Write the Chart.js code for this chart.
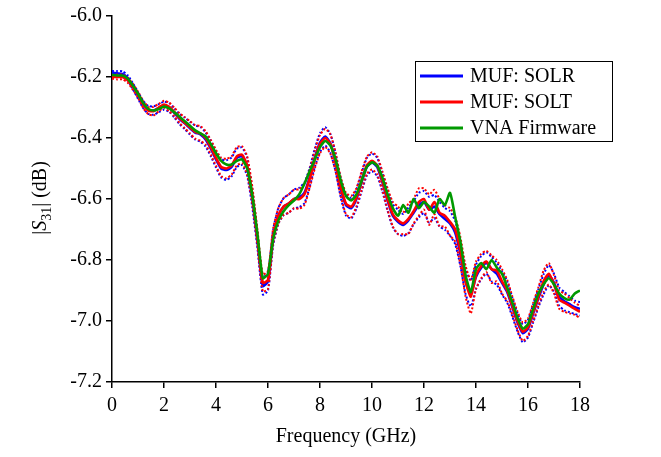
<!DOCTYPE html>
<html>
<head>
<meta charset="utf-8">
<script src="https://cdn.jsdelivr.net/npm/chart.js@4.4.0/dist/chart.umd.min.js"></script>
<style>
  html, body { margin: 0; padding: 0; background: #fff; }
  #wrap { width: 661px; height: 457px; }
</style>
</head>
<body>
<div id="wrap"><canvas id="chart" width="661" height="457"></canvas></div>
<script>
// frequency grid (GHz)
const freq = [
  0, 0.2, 0.4, 0.6, 0.8, 1.0, 1.2, 1.4, 1.6, 1.8,
  2.0, 2.2, 2.4, 2.6, 2.8, 3.0, 3.2, 3.4, 3.6, 3.8,
  4.0, 4.2, 4.4, 4.6, 4.8, 5.0, 5.2, 5.4, 5.6, 5.8,
  6.0, 6.2, 6.4, 6.6, 6.8, 7.0, 7.2, 7.4, 7.6, 7.8,
  8.0, 8.2, 8.4, 8.6, 8.8, 9.0, 9.2, 9.4, 9.6, 9.8,
  10.0, 10.2, 10.4, 10.6, 10.8, 11.0, 11.2, 11.4, 11.6, 11.8,
  12.0, 12.2, 12.4, 12.6, 12.8, 13.0, 13.2, 13.4, 13.6, 13.8,
  14.0, 14.2, 14.4, 14.6, 14.8, 15.0, 15.2, 15.4, 15.6, 15.8,
  16.0, 16.2, 16.4, 16.6, 16.8, 17.0, 17.2, 17.4, 17.6, 17.8,
  18.0
];

// |S31| in dB
const vnaFirmware = [
  -6.193, -6.195, -6.195, -6.205, -6.228, -6.255, -6.285, -6.305, -6.31, -6.305,
  -6.297, -6.303, -6.316, -6.33, -6.345, -6.36, -6.375, -6.385, -6.395, -6.42,
  -6.45, -6.475, -6.487, -6.487, -6.475, -6.47, -6.5, -6.59, -6.72, -6.86,
  -6.845, -6.73, -6.67, -6.64, -6.62, -6.605, -6.585, -6.55, -6.51, -6.47,
  -6.43, -6.41, -6.425, -6.47, -6.54, -6.59, -6.605, -6.585, -6.54, -6.495,
  -6.48, -6.49, -6.53, -6.585, -6.63, -6.655, -6.62, -6.645, -6.6, -6.63,
  -6.61, -6.625, -6.645, -6.6, -6.62, -6.58, -6.66, -6.74, -6.85, -6.905,
  -6.83, -6.81, -6.83, -6.8, -6.825, -6.845, -6.89, -6.94, -6.99, -7.025,
  -7.01, -6.96, -6.91, -6.88, -6.86, -6.88, -6.91, -6.925, -6.93, -6.91,
  -6.9
];

const mufSolt = [
  -6.2, -6.2, -6.2, -6.21, -6.232, -6.258, -6.29, -6.31, -6.312, -6.3,
  -6.29, -6.298, -6.315, -6.335, -6.35, -6.365, -6.38, -6.385, -6.4, -6.43,
  -6.465, -6.495, -6.5, -6.49, -6.46, -6.455, -6.49, -6.59, -6.73, -6.875,
  -6.865, -6.72, -6.655, -6.625, -6.615, -6.6, -6.6, -6.585, -6.535, -6.47,
  -6.42, -6.4, -6.42, -6.48, -6.56, -6.615, -6.625, -6.595, -6.54, -6.49,
  -6.475, -6.49, -6.54, -6.6, -6.65, -6.67, -6.68, -6.665, -6.64, -6.61,
  -6.6, -6.635, -6.61, -6.645, -6.655, -6.675, -6.7, -6.77, -6.87, -6.92,
  -6.85, -6.82, -6.805, -6.83, -6.835, -6.87, -6.9, -6.95, -7.0, -7.035,
  -7.02, -6.97, -6.92, -6.87, -6.845, -6.88, -6.93, -6.94, -6.95, -6.96,
  -6.97
];

const mufSolr = [
  -6.186, -6.188, -6.19, -6.203, -6.23, -6.26, -6.29, -6.308, -6.31, -6.302,
  -6.294, -6.3, -6.318, -6.338, -6.352, -6.368, -6.382, -6.388, -6.405, -6.435,
  -6.47, -6.5, -6.505, -6.495, -6.465, -6.46, -6.495, -6.6, -6.74, -6.885,
  -6.87, -6.725, -6.655, -6.625, -6.615, -6.6, -6.595, -6.58, -6.53, -6.465,
  -6.415, -6.395, -6.418, -6.48, -6.565, -6.62, -6.63, -6.6, -6.545, -6.495,
  -6.48, -6.495, -6.545, -6.605, -6.655, -6.675, -6.685, -6.67, -6.645, -6.62,
  -6.61, -6.635, -6.625, -6.65, -6.665, -6.68, -6.71, -6.78, -6.87, -6.91,
  -6.855, -6.825, -6.81, -6.83, -6.845, -6.875, -6.905, -6.955, -7.005, -7.04,
  -7.025, -6.975, -6.925, -6.88, -6.85, -6.875, -6.92, -6.935, -6.945, -6.955,
  -6.96
];

// half width of the uncertainty band (dB)
const soltUnc = [
  0.006, 0.008, 0.008, 0.008, 0.01, 0.01, 0.012, 0.012, 0.014, 0.012,
  0.012, 0.014, 0.014, 0.016, 0.018, 0.02, 0.022, 0.024, 0.022, 0.024,
  0.026, 0.03, 0.032, 0.03, 0.03, 0.028, 0.03, 0.028, 0.025, 0.028,
  0.03, 0.025, 0.025, 0.028, 0.03, 0.03, 0.032, 0.035, 0.03, 0.03,
  0.03, 0.03, 0.032, 0.03, 0.03, 0.035, 0.035, 0.03, 0.03, 0.028,
  0.028, 0.03, 0.03, 0.035, 0.04, 0.045, 0.035, 0.05, 0.04, 0.045,
  0.035, 0.05, 0.04, 0.045, 0.035, 0.045, 0.04, 0.045, 0.05, 0.055,
  0.045, 0.04, 0.035, 0.045, 0.035, 0.04, 0.035, 0.03, 0.03, 0.03,
  0.028, 0.03, 0.03, 0.035, 0.035, 0.03, 0.03, 0.03, 0.025, 0.02,
  0.02
];

const solrUnc = [
  0.006, 0.008, 0.009, 0.009, 0.01, 0.011, 0.012, 0.013, 0.014, 0.013,
  0.013, 0.014, 0.015, 0.017, 0.019, 0.021, 0.023, 0.024, 0.023, 0.025,
  0.027, 0.03, 0.032, 0.031, 0.03, 0.029, 0.03, 0.029, 0.026, 0.028,
  0.03, 0.026, 0.026, 0.028, 0.03, 0.031, 0.032, 0.034, 0.031, 0.03,
  0.031, 0.03, 0.031, 0.03, 0.031, 0.034, 0.034, 0.031, 0.03, 0.029,
  0.029, 0.03, 0.031, 0.034, 0.038, 0.04, 0.036, 0.042, 0.038, 0.04,
  0.036, 0.042, 0.038, 0.04, 0.036, 0.04, 0.038, 0.04, 0.042, 0.042,
  0.04, 0.038, 0.035, 0.04, 0.036, 0.038, 0.035, 0.031, 0.03, 0.03,
  0.029, 0.03, 0.03, 0.033, 0.033, 0.03, 0.03, 0.03, 0.026, 0.022,
  0.022
];

const legendItems = [
  { label: 'MUF: SOLR', color: '#0000ff' },
  { label: 'MUF: SOLT', color: '#ff0000' },
  { label: 'VNA Firmware', color: '#009900' }
];

const FONT = "'Liberation Serif', 'Times New Roman', serif";

const pts = (ys) => ys.map((y, i) => ({ x: freq[i], y: y }));
const upper = (ys, u) => ys.map((y, i) => ({ x: freq[i], y: y + u[i] }));
const lower = (ys, u) => ys.map((y, i) => ({ x: freq[i], y: y - u[i] }));

const solid = (data, color, order) => ({
  data: data, borderColor: color, borderWidth: 2.6, pointRadius: 0,
  tension: 0.2, fill: false, order: order
});
const dotted = (data, color, order) => ({
  data: data, borderColor: color, borderWidth: 2, borderDash: [2, 2],
  pointRadius: 0, tension: 0.2, fill: false, order: order
});

// y-axis title with italic S and subscript
const yTitle = {
  id: 'yTitle',
  afterDraw(chart) {
    const ctx = chart.ctx;
    const parts = [
      { t: '|', f: `20px ${FONT}`, dy: 0 },
      { t: 'S', f: `italic 20px ${FONT}`, dy: 0 },
      { t: '31', f: `14px ${FONT}`, dy: 5 },
      { t: '| (dB)', f: `20px ${FONT}`, dy: 0 }
    ];
    ctx.save();
    ctx.translate(46, 198);
    ctx.rotate(-Math.PI / 2);
    ctx.fillStyle = '#000';
    ctx.textBaseline = 'alphabetic';
    let total = 0;
    parts.forEach(p => { ctx.font = p.f; p.w = ctx.measureText(p.t).width; total += p.w; });
    let x = -total / 2;
    parts.forEach(p => {
      ctx.font = p.f;
      ctx.fillText(p.t, x, p.dy);
      x += p.w;
    });
    ctx.restore();
  }
};

// boxed legend inside the plot
const boxLegend = {
  id: 'boxLegend',
  afterDraw(chart) {
    const ctx = chart.ctx;
    ctx.save();
    ctx.fillStyle = '#fff';
    ctx.fillRect(415.5, 61.5, 197, 80);
    ctx.strokeStyle = '#000';
    ctx.lineWidth = 1;
    ctx.strokeRect(415.5, 61.5, 197, 80);
    ctx.font = `20px ${FONT}`;
    ctx.textBaseline = 'middle';
    legendItems.forEach((item, i) => {
      const y = 76 + i * 26;
      ctx.strokeStyle = item.color;
      ctx.lineWidth = 3;
      ctx.beginPath();
      ctx.moveTo(420, y);
      ctx.lineTo(463, y);
      ctx.stroke();
      ctx.fillStyle = '#000';
      ctx.fillText(item.label, 470, y + 1);
    });
    ctx.restore();
  }
};

new Chart(document.getElementById('chart'), {
  type: 'line',
  data: {
    datasets: [
      solid(pts(vnaFirmware), '#009900', 0),
      solid(pts(mufSolt), '#ff0000', 1),
      dotted(upper(mufSolt, soltUnc), '#ff0000', 2),
      dotted(lower(mufSolt, soltUnc), '#ff0000', 2),
      solid(pts(mufSolr), '#0000ff', 3),
      dotted(upper(mufSolr, solrUnc), '#0000ff', 4),
      dotted(lower(mufSolr, solrUnc), '#0000ff', 4)
    ]
  },
  options: {
    responsive: false,
    animation: false,
    layout: { padding: { top: 15.5, right: 81, bottom: 0, left: 0 } },
    plugins: { legend: { display: false }, tooltip: { enabled: false } },
    scales: {
      x: {
        type: 'linear', min: 0, max: 18,
        afterFit(scale) { scale.height = 75; },
        border: { display: true, color: '#000', width: 1.5 },
        grid: { drawOnChartArea: false, drawTicks: true, tickLength: 6, color: '#000', lineWidth: 1.5 },
        ticks: { stepSize: 2, color: '#000', padding: 6, maxRotation: 0, font: { family: FONT, size: 20 } },
        title: { display: true, text: 'Frequency (GHz)', color: '#000', padding: { top: 0, bottom: 8 }, font: { family: FONT, size: 20 } }
      },
      y: {
        min: -7.2, max: -6.0,
        afterFit(scale) { scale.width = 112; },
        border: { display: true, color: '#000', width: 1.5 },
        grid: { drawOnChartArea: false, drawTicks: true, tickLength: 6, color: '#000', lineWidth: 1.5 },
        ticks: { stepSize: 0.2, color: '#000', padding: 4, font: { family: FONT, size: 20 },
                 callback: v => v.toFixed(1) }
      }
    }
  },
  plugins: [yTitle, boxLegend]
});
</script>
</body>
</html>
